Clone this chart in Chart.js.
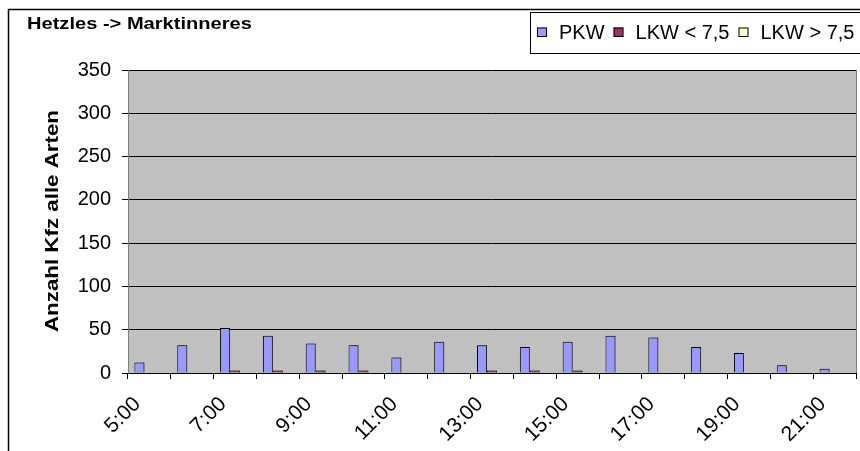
<!DOCTYPE html>
<html>
<head>
<meta charset="utf-8">
<script src="https://cdn.jsdelivr.net/npm/chart.js@4/dist/chart.umd.min.js"></script>
<style>
html,body{margin:0;padding:0;background:#fff;}
#wrap{width:860px;height:451px;position:relative;}
</style>
</head>
<body>
<div id="wrap"><canvas id="c" width="860" height="451"></canvas></div>
<script>
const chartTitle = 'Hetzles -> Marktinneres';
const yAxisTitle = 'Anzahl Kfz alle Arten';
const categories = ['5:00','6:00','7:00','8:00','9:00','10:00','11:00','12:00','13:00','14:00','15:00','16:00','17:00','18:00','19:00','20:00','21:00'];
const seriesNames = ['PKW','LKW < 7,5','LKW > 7,5'];
const pkw      = [12, 32, 52, 43, 34, 32, 18, 36, 32, 30, 36, 43, 41, 30, 23, 9, 5];
const lkwSmall = [0, 0, 3, 3, 3, 3, 0, 0, 3, 3, 3, 0, 0, 0, 0, 0, 0];
const lkwLarge = [0, 0, 0, 0, 0, 0, 0, 0, 0, 0, 0, 0, 0, 0, 0, 0, 0];
const yTicks = [0, 50, 100, 150, 200, 250, 300, 350];

const seriesColors = ['#9999FF', '#993366', '#FFFFCC'];
const FONT = '"Liberation Sans", Arial, sans-serif';

const plotBg = {
  id: 'plotBg',
  beforeDraw(chart) {
    const {ctx, chartArea: a} = chart;
    ctx.save();
    ctx.fillStyle = '#C0C0C0';
    ctx.fillRect(a.left, a.top, a.right - a.left, a.bottom - a.top);
    ctx.strokeStyle = '#808080';
    ctx.lineWidth = 1;
    ctx.beginPath();
    ctx.moveTo(a.right + 0.5, a.top);
    ctx.lineTo(a.right + 0.5, a.bottom);
    ctx.stroke();
    ctx.restore();
  }
};

const barShadow = {
  id: 'barShadow',
  beforeDatasetsDraw(chart) {
    const ctx = chart.ctx;
    ctx.save();
    ctx.shadowColor = 'rgba(70,70,70,0.55)';
    ctx.shadowOffsetX = 2;
    ctx.shadowOffsetY = 0;
    ctx.shadowBlur = 0;
  },
  afterDatasetsDraw(chart) {
    chart.ctx.restore();
  }
};

const decor = {
  id: 'decor',
  afterDraw(chart) {
    const ctx = chart.ctx;
    ctx.save();
    // outer chart border
    ctx.strokeStyle = '#000';
    ctx.lineWidth = 1.5;
    ctx.beginPath();
    ctx.moveTo(8.5, 460);
    ctx.lineTo(8.5, 9.5);
    ctx.lineTo(870, 9.5);
    ctx.stroke();

    // title
    ctx.fillStyle = '#000';
    ctx.font = 'bold 16px ' + FONT;
    ctx.textBaseline = 'alphabetic';
    ctx.textAlign = 'left';
    ctx.save();
    ctx.translate(27, 29);
    ctx.scale(1.255, 1);
    ctx.fillText(chartTitle, 0, 0);
    ctx.restore();

    // y axis title
    ctx.save();
    ctx.font = 'bold 18px ' + FONT;
    ctx.translate(58, 221);
    ctx.rotate(-Math.PI / 2);
    ctx.scale(1.24, 1);
    ctx.textAlign = 'center';
    ctx.fillText(yAxisTitle, 0, 0);
    ctx.restore();

    // legend box
    ctx.lineWidth = 1;
    ctx.strokeStyle = '#000';
    ctx.strokeRect(530.5, 12.5, 400, 41);
    ctx.font = '20px ' + FONT;
    ctx.textBaseline = 'middle';
    let x = 537;
    const cy = 32;
    chart.data.datasets.forEach((ds) => {
      ctx.fillStyle = ds.backgroundColor;
      ctx.fillRect(x, cy - 4.5, 9.5, 9);
      ctx.strokeStyle = '#000';
      ctx.strokeRect(x + 0.5, cy - 4.5 + 0.5, 9, 8.5);
      ctx.fillStyle = '#000';
      ctx.fillText(ds.label, x + 22, cy + 1);
      x += 22 + ctx.measureText(ds.label).width + 9;
    });
    ctx.restore();
  }
};

new Chart(document.getElementById('c'), {
  type: 'bar',
  data: {
    labels: categories,
    datasets: [
      {label: seriesNames[0], data: pkw, backgroundColor: seriesColors[0], borderColor: '#000', borderWidth: 1, borderSkipped: 'bottom'},
      {label: seriesNames[1], data: lkwSmall, backgroundColor: seriesColors[1], borderColor: '#000', borderWidth: 1, borderSkipped: 'bottom'},
      {label: seriesNames[2], data: lkwLarge, backgroundColor: seriesColors[2], borderColor: '#000', borderWidth: 1, borderSkipped: 'bottom'}
    ]
  },
  options: {
    responsive: false,
    animation: false,
    events: [],
    layout: {padding: {left: 0, top: 70, right: 4, bottom: 0}},
    datasets: {bar: {categoryPercentage: 0.7, barPercentage: 1.0}},
    plugins: {legend: {display: false}, title: {display: false}, tooltip: {enabled: false}},
    scales: {
      x: {
        offset: true,
        grid: {offset: true, drawOnChartArea: false, drawTicks: true, tickLength: 6, color: '#000', lineWidth: 1},
        border: {color: '#000', width: 1},
        ticks: {
          autoSkip: false, maxRotation: 45, minRotation: 45,
          font: {family: FONT, size: 21}, color: '#000', padding: 13, labelOffset: -12,
          callback: (v, i) => (i % 2 === 0 ? categories[i] : '')
        },
        afterFit: s => { s.height = 78; s.paddingLeft = 0; s.paddingRight = 0; }
      },
      y: {
        min: 0, max: 350,
        afterBuildTicks: s => { s.ticks = yTicks.map(v => ({value: v})); },
        ticks: {font: {family: FONT, size: 20}, color: '#000', padding: 11},
        grid: {color: '#000', lineWidth: 1, tickLength: 6, tickColor: '#000'},
        border: {color: '#808080', width: 1},
        afterFit: s => { s.width = 128; s.paddingTop = 0; s.paddingBottom = 0; }
      }
    }
  },
  plugins: [plotBg, barShadow, decor]
});
</script>
</body>
</html>
